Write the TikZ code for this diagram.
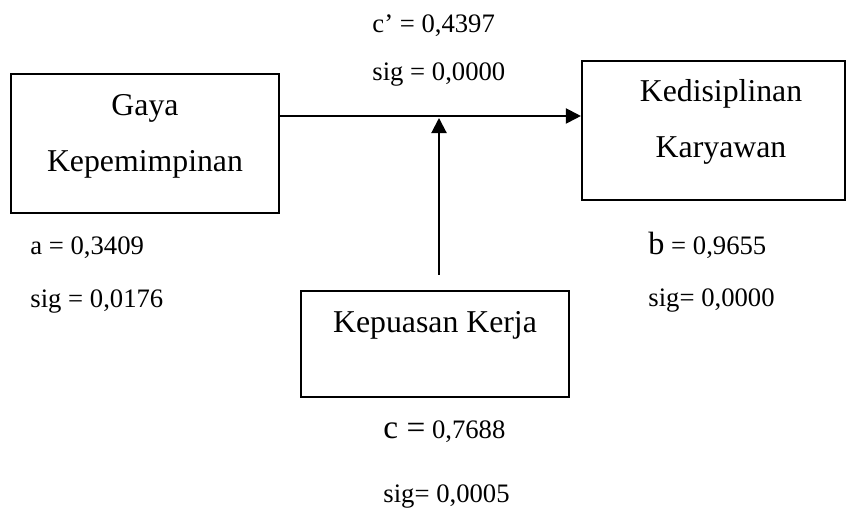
\documentclass[tikz,border=0pt]{standalone}
\usepackage{fontspec}
\setmainfont{Liberation Serif}
\usetikzlibrary{arrows.meta}

\tikzset{
    kotak/.style={draw, line width=0.9pt, inner sep=0pt},
    judul/.style={font=\fontsize{14.3}{25.2}\selectfont, align=center, anchor=base, inner sep=0pt},
    nilai/.style={font=\fontsize{12}{14}\selectfont, anchor=base west, inner sep=0pt},
    panah/.style={line width=0.9pt, -{Triangle[length=6.8pt,width=6.8pt]}}
}

\begin{document}
\begin{tikzpicture}[x=0.45pt,y=-0.45pt]
            \useasboundingbox (0,0) rectangle (847,508);
            \node[kotak, minimum width=120.6pt, minimum height=62.5pt] (gaya) at (145,143.5) {};
            \node[kotak, minimum width=118.4pt, minimum height=62.6pt] (disiplin) at (713.5,130.5) {};
            \node[kotak, minimum width=120.6pt, minimum height=47.7pt] (kepuasan) at (435,344) {};
            \node[judul] (gayaT) at (145,172) {Gaya\\Kepemimpinan};
            \node[judul] (disiplinT) at (721,158) {Kedisiplinan\\Karyawan};
            \node[judul] (kepuasanT) at (435,333) {Kepuasan Kerja};
            \node[nilai] (nilaiC1) at (372,33) {c’ = 0,4397};
            \node[nilai] (sigC1) at (372,81) {sig = 0,0000};
            \node[nilai] (nilaiA) at (30,255) {a = 0,3409};
            \node[nilai] (sigA) at (30,308) {sig = 0,0176};
            \node[nilai] (nilaiB) at (648,255) {{\fontsize{14.5}{16}\selectfont b} = 0,9655};
            \node[nilai] (sigB) at (648,307) {sig= 0,0000};
            \node[nilai] (nilaiC) at (383,438) {{\fontsize{15}{16}\selectfont c =} 0,7688};
            \node[nilai] (sigC) at (383,502) {sig= 0,0005};
            \coordinate (garis) at (439,116);
            \draw[panah] (gaya.east |- garis) -- (disiplin.west |- garis);
            \draw[panah, shorten <=6.8pt, shorten >=0.9pt] (garis |- kepuasan.north) -- (garis);
\end{tikzpicture}
\end{document}
